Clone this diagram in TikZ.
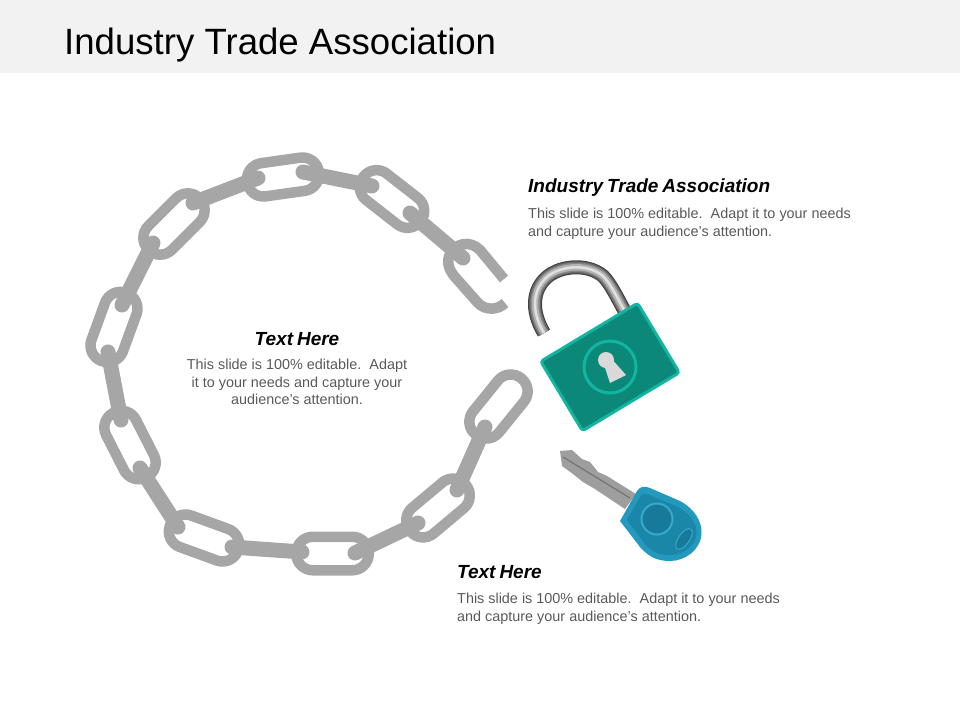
\documentclass[tikz,border=0pt]{standalone}
\usepackage{fontspec}
\setmainfont{Liberation Sans}[BoldItalicFeatures={WordSpace=0.75}]
\usetikzlibrary{positioning,shapes.geometric}
\definecolor{chaingray}{HTML}{A6A6A6}
\definecolor{headerbg}{HTML}{F2F2F2}
\definecolor{bodygray}{HTML}{595959}
\definecolor{lockfill}{HTML}{0B8878}
\definecolor{lockrim}{HTML}{12B5A1}
\definecolor{keyblue}{HTML}{1A86A8}
\definecolor{keyrim}{HTML}{2399BD}
\definecolor{keydark}{HTML}{177A9A}
\definecolor{keyline}{HTML}{36A9CC}
\tikzset{
	chainlink/.style={draw=chaingray,line width=10.5pt,rounded corners=16.5pt,minimum width=72.5pt,minimum height=33.5pt,inner sep=0pt},
	chainbar/.style={draw=chaingray,line width=15pt,line cap=round},
	titletext/.style={inner sep=0pt,anchor=base west,font=\fontsize{36.6}{40}\selectfont},
	headtext/.style={inner sep=0pt,font=\fontsize{19}{22}\selectfont\bfseries\itshape},
	bodytext/.style={inner sep=0pt,text=bodygray,font=\fontsize{14.4}{17.9}\selectfont},
	lockbody/.style={draw=lockrim,fill=lockfill,line width=3pt,rounded corners=3pt,minimum width=113pt,minimum height=81pt,inner sep=0pt},
	lockring/.style={draw=lockrim,line width=3pt,circle,minimum size=52pt,inner sep=0pt},
	keyring/.style={draw=keyline,fill=keydark,line width=2pt,circle,minimum size=31pt,inner sep=0pt},
	keybutton/.style={draw=keyline,fill=keydark,line width=1pt,ellipse,minimum width=24pt,minimum height=11pt,inner sep=0pt}
}
\begin{document}
\begin{tikzpicture}[x=1pt,y=-1pt]
	\useasboundingbox (0,0) rectangle (960,720);
	\fill[headerbg] (0,0) rectangle (960,72.5);
	\node[titletext] (title) at (64,54) {Industry Trade Association};

	\foreach \n/\x/\y/\a in {2/392/199/-38,3/283/177/8,4/174/224/45,5/114/327/70,6/130/445/-63,7/204/538/-20,8/332.5/553.5/0,9/438/508/40,10/498.5/406.5/51}
		\node[chainlink,rotate=\a] (link\n) at (\x,\y) {};

	\foreach \n/\xa/\ya/\xb/\yb in {1/463/258/410/213,2/372/186/303/172,3/258/178/193/203,4/153/243/122/305,5/108/352/121/420,6/140/468/178/527,7/232/547/302/552,8/355/553/418/523,9/457/490/485/427}{
		\coordinate (pinA\n) at (\xa,\ya);
		\coordinate (pinB\n) at (\xb,\yb);
		\draw[chainbar] (pinA\n) -- (pinB\n);
	}
	\draw[chaingray,line width=10.5pt] (504,279) -- (480,250) .. controls (470,240) and (456,243) .. (450,254) .. controls (446,262) and (449,270) .. (455,277) -- (478,303) .. controls (486,311) and (498,310) .. (505,303);

	\foreach \w/\c in {14/black!75,12/black!62,9.5/black!48,6.5/black!30,2.5/black!12}
		\draw[\c,line width=\w pt] (544,333) .. controls (533,315) and (531,294) .. (544,280) .. controls (556,266) and (586,262) .. (603,276) .. controls (610,283) and (617,297) .. (624,310);
	\node[lockbody,rotate=31] (lock) at (610,367) {};
	\node[lockring] (lockhole) at (610,367) {};
	\fill[black!15] (606,360) circle (8);
	\fill[black!15] (603,362) -- (610,383) -- (626,375) -- (610,357) -- cycle;

	\fill[black!38] (560,451) -- (572,450) -- (582,459) -- (590,462) -- (598,472) -- (607,476) -- (636,494) -- (625,509) -- (595,489) -- (583,482) -- (573,474) -- (562,466) -- cycle;
	\draw[black!55,line width=1.2pt] (563,457) -- (630,498);
	\fill[keyrim] (620,521) -- (637,491) .. controls (640,486) and (645,486) .. (650,488) -- (680,501) .. controls (695,509) and (702,522) .. (701.5,533) .. controls (701,550) and (685,561) .. (670,561) .. controls (656,561) and (648,556) .. (640,547) -- cycle;
	\fill[keyblue] (627,520) -- (640,497) .. controls (642,493) and (645,493) .. (649,495) -- (678,507) .. controls (690,514) and (697,524) .. (696.5,533) .. controls (696,546) and (683,555) .. (670,555) .. controls (659,555) and (652,552) .. (645,544) -- cycle;
	\node[keyring] (keycap) at (657,519) {};
	\node[keybutton,rotate=55] (keybtn) at (684,539) {};

	\node[headtext,anchor=west] (headA) at (528,188) {Industry Trade Association};
	\node[bodytext,align=left,anchor=north west] (bodyA) at (528,207.5) {This slide is 100\% editable.\ \ Adapt it to your needs\\and capture your audience's attention.};
	\node[headtext] (headB) at (297,339) {Text Here};
	\node[bodytext,align=center,anchor=north] (bodyB) at (297,358.5) {This slide is 100\% editable.\ \ Adapt\\it to your needs and capture your\\audience's attention.};
	\node[headtext,anchor=west] (headC) at (457,572) {Text Here};
	\node[bodytext,align=left,anchor=north west] (bodyC) at (457,592.5) {This slide is 100\% editable.\ \ Adapt it to your needs\\and capture your audience's attention.};
\end{tikzpicture}
\end{document}
